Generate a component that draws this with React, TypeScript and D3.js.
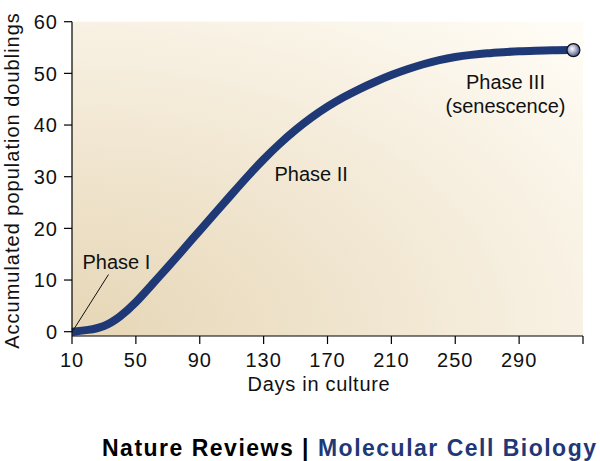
import React from "react";
import * as d3 from "d3";

const days = [10, 20, 30, 40, 50, 60, 70, 80, 90, 100, 110, 120, 130, 140, 150, 160, 170, 180, 190, 200, 210, 220, 230, 240, 250, 260, 270, 280, 290, 300, 310, 324];
const doublings = [0, 0.3, 0.9, 2.8, 5.6, 9.1, 12.5, 16.0, 19.6, 23.1, 26.6, 30.1, 33.4, 36.4, 39.1, 41.5, 43.6, 45.4, 47.0, 48.4, 49.7, 50.8, 51.8, 52.6, 53.2, 53.6, 53.9, 54.1, 54.3, 54.4, 54.5, 54.5];
const xTicks = [10, 50, 90, 130, 170, 210, 250, 290, 330];
const xTickLabels = ["10", "50", "90", "130", "170", "210", "250", "290", ""];
const yTicks = [0, 10, 20, 30, 40, 50, 60];

const W = 600;
const H = 461;
const font = "'Liberation Sans', Arial, Helvetica, sans-serif";

export default function App() {
  const x = d3.scaleLinear().domain([10, 330]).range([72, 583]);
  const y = d3.scaleLinear().domain([0, 60]).range([331.7, 21.7]);
  const axisY = 336;
  const pts = days.map((d, i) => [d, doublings[i]] as [number, number]);
  const line = d3
    .line<[number, number]>()
    .x((d) => x(d[0]))
    .y((d) => y(d[1]))
    .curve(d3.curveBasis);
  const last = pts[pts.length - 1];

  return (
    <svg width={W} height={H} style={{ position: "absolute", left: 0, top: 0 }} fontFamily={font}>
      <defs>
        <radialGradient id="bg" cx="0" cy="1" r="1.35" fx="0" fy="1">
          <stop offset="0" stopColor="#e6d6b6" />
          <stop offset="0.5" stopColor="#f2e8d4" />
          <stop offset="1" stopColor="#fffcf5" />
        </radialGradient>
        <radialGradient id="ball" cx="0.4" cy="0.4" r="0.6">
          <stop offset="0" stopColor="#ffffff" />
          <stop offset="0.5" stopColor="#a9b0cc" />
          <stop offset="1" stopColor="#4a5688" />
        </radialGradient>
      </defs>
      <rect x={0} y={0} width={W} height={H} fill="#ffffff" />
      <rect x={x(10)} y={y(60)} width={x(330) - x(10)} height={axisY - y(60)} fill="url(#bg)" />

      {/* curve */}
      <path d={line(pts) || ""} fill="none" stroke="#1f3876" strokeWidth={8} />

      {/* axes */}
      <line x1={x(10)} x2={x(10)} y1={y(60)} y2={axisY} stroke="#000" strokeWidth={1.2} />
      <line x1={x(10)} x2={x(330)} y1={axisY} y2={axisY} stroke="#000" strokeWidth={1.2} />
      {yTicks.map((t) => (
        <g key={"y" + t}>
          <line x1={x(10) - 8} x2={x(10)} y1={y(t)} y2={y(t)} stroke="#000" strokeWidth={1.2} />
          <text x={x(10) - 14} y={y(t)} dy="0.36em" textAnchor="end" fontSize={20} letterSpacing={1} fill="#111">
            {t}
          </text>
        </g>
      ))}
      {xTicks.map((t, i) => (
        <g key={"x" + t}>
          <line x1={x(t)} x2={x(t)} y1={axisY} y2={axisY + 8} stroke="#000" strokeWidth={1.2} />
          <text x={x(t)} y={367} textAnchor="middle" fontSize={20} letterSpacing={1} fill="#111">
            {xTickLabels[i]}
          </text>
        </g>
      ))}
      <text x={319} y={391} textAnchor="middle" fontSize={20} letterSpacing={0.7} fill="#111">
        Days in culture
      </text>
      <text
        transform="translate(18.5,180.5) rotate(-90)"
        textAnchor="middle"
        fontSize={20}
        letterSpacing={1}
        fill="#111"
      >
        Accumulated population doublings
      </text>

      {/* annotations */}
      <text x={82.5} y={268.5} fontSize={20} fill="#111">Phase I</text>
      <line x1={108.5} y1={274.5} x2={x(10.8)} y2={y(0.3)} stroke="#111" strokeWidth={1} />
      <text x={274.5} y={181} fontSize={20} fill="#111">Phase II</text>
      <text x={505.5} y={88.5} textAnchor="middle" fontSize={20} fill="#111">Phase III</text>
      <text x={505.5} y={112.5} textAnchor="middle" fontSize={20} fill="#111">(senescence)</text>

      {/* end marker */}
      <circle cx={x(last[0])} cy={y(last[1])} r={6.5} fill="url(#ball)" stroke="#111" strokeWidth={1.2} />

      {/* footer */}
      <text x={102} y={456} fontSize={23} fontWeight="bold" textLength={494} lengthAdjust="spacing">
        <tspan fill="#000">Nature Reviews | </tspan>
        <tspan fill="#1f3876">Molecular Cell Biology</tspan>
      </text>
    </svg>
  );
}
